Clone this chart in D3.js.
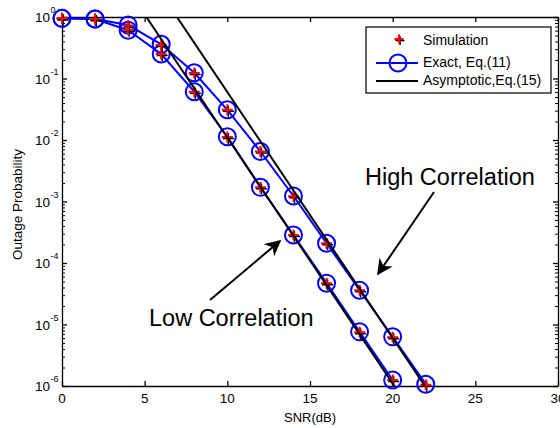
<html>
<head>
<script src="https://d3js.org/d3.v7.min.js"></script>
<style>
  body { margin: 0; background: #fff; }
  svg { font-family: "Liberation Sans", Arial, sans-serif; }
  .axis path, .axis line { stroke: #000; stroke-width: 1.3; }
  .minor line { stroke: #000; stroke-width: 1; }
</style>
</head>
<body>
<svg width="560" height="428"></svg>
<script>
// SNR points (dB)
var snrLow = [0, 2, 4, 6, 8, 10, 12, 14, 16, 18, 20];
var snrHigh = [0, 2, 4, 6, 8, 10, 12, 14, 16, 18, 20, 22];

// exact outage probability, Eq.(11)
var exactLow = [0.95, 0.93, 0.61, 0.25, 0.061, 0.0113, 0.0017, 2.85e-4, 4.7e-5, 7.6e-6, 1.25e-6];
var exactHigh = [0.95, 0.93, 0.74, 0.36, 0.124, 0.031, 0.0065, 0.00123, 2.1e-4, 3.6e-5, 6.3e-6, 1.07e-6];

// simulation results
var simLow = [0.95, 0.93, 0.62, 0.25, 0.061, 0.0112, 0.0017, 2.85e-4, 4.7e-5, 7.5e-6, 1.25e-6];
var simHigh = [0.95, 0.93, 0.73, 0.35, 0.123, 0.031, 0.0065, 0.00122, 2.1e-4, 3.6e-5, 6.2e-6, 1.05e-6];

// asymptotic lines, Eq.(15), read at the plot edges
var asymLowSnr = [5.1, 20.1];
var asymLowP = [1, 1e-6];
var asymHighSnr = [6.95, 21.95];
var asymHighP = [1, 1e-6];

// tick values
var xTicks = [0, 5, 10, 15, 20, 25, 30];
var yExps = [0, -1, -2, -3, -4, -5, -6];

var svg = d3.select("svg");
var mLeft = 62, mRight = 558, mTop = 17, mBottom = 386;

var x = d3.scaleLinear().domain([0, 30]).range([mLeft, mRight]);
var y = d3.scaleLog().domain([1e-6, 1]).range([mBottom, mTop]);

var yMajor = yExps.map(function(e) { return Math.pow(10, e); });
var yMinor = [];
yExps.slice(1).forEach(function(e) {
  for (var k = 2; k <= 9; k++) yMinor.push(k * Math.pow(10, e));
});

var defs = svg.append("defs");
defs.append("clipPath").attr("id", "clip")
  .append("rect").attr("x", mLeft).attr("y", mTop)
  .attr("width", mRight - mLeft).attr("height", mBottom - mTop);

// axes with inward ticks on all four sides
svg.append("g").attr("class", "axis")
  .attr("transform", "translate(0," + mBottom + ")")
  .call(d3.axisBottom(x).tickValues(xTicks).tickSizeInner(-5).tickSizeOuter(0).tickFormat(""));
svg.append("g").attr("class", "axis")
  .attr("transform", "translate(0," + mTop + ")")
  .call(d3.axisTop(x).tickValues(xTicks).tickSizeInner(-5).tickSizeOuter(0).tickFormat(""));
svg.append("g").attr("class", "axis")
  .attr("transform", "translate(" + mLeft + ",0)")
  .call(d3.axisLeft(y).tickValues(yMajor).tickSizeInner(-5).tickSizeOuter(0).tickFormat(""));
svg.append("g").attr("class", "axis")
  .attr("transform", "translate(" + mRight + ",0)")
  .call(d3.axisRight(y).tickValues(yMajor).tickSizeInner(-5).tickSizeOuter(0).tickFormat(""));
svg.append("g").attr("class", "axis minor")
  .attr("transform", "translate(" + mLeft + ",0)")
  .call(d3.axisLeft(y).tickValues(yMinor).tickSizeInner(-3).tickSizeOuter(0).tickFormat(""));
svg.append("g").attr("class", "axis minor")
  .attr("transform", "translate(" + mRight + ",0)")
  .call(d3.axisRight(y).tickValues(yMinor).tickSizeInner(-3).tickSizeOuter(0).tickFormat(""));
svg.selectAll(".minor path").remove();

// tick labels
svg.append("g").selectAll("text").data(xTicks).enter().append("text")
  .attr("x", function(d) { return x(d); })
  .attr("y", mBottom + 17)
  .attr("text-anchor", "middle")
  .attr("font-size", 13.5)
  .text(function(d) { return d; });

var yl = svg.append("g").selectAll("g").data(yExps).enter().append("g")
  .attr("transform", function(d) { return "translate(0," + y(Math.pow(10, d)) + ")"; });
yl.append("text").attr("x", 50).attr("y", 5).attr("text-anchor", "end")
  .attr("font-size", 13.5).text("10");
yl.append("text").attr("x", 50.5).attr("y", -4)
  .attr("font-size", 9).text(function(d) { return d; });

// axis titles
svg.append("text").attr("x", (mLeft + mRight) / 2).attr("y", 422)
  .attr("text-anchor", "middle").attr("font-size", 13).text("SNR(dB)");
svg.append("text")
  .attr("transform", "translate(22," + ((mTop + mBottom) / 2 + 3) + ") rotate(-90)")
  .attr("text-anchor", "middle").attr("font-size", 13.5).text("Outage Probability");

var line = d3.line()
  .x(function(d) { return x(d[0]); })
  .y(function(d) { return y(d[1]); });

// exact curves
[[snrLow, exactLow], [snrHigh, exactHigh]].forEach(function(s) {
  var pts = d3.zip(s[0], s[1]);
  svg.append("path").datum(pts)
    .attr("d", line).attr("fill", "none")
    .attr("stroke", "#0000ff").attr("stroke-width", 2);
  svg.append("g").selectAll("circle").data(pts).enter().append("circle")
    .attr("cx", function(d) { return x(d[0]); })
    .attr("cy", function(d) { return y(d[1]); })
    .attr("r", 8.5)
    .attr("fill", "none").attr("stroke", "#0000ff").attr("stroke-width", 2);
});

// simulation markers
function plus(g, cx, cy, a, color, w) {
  g.append("path")
    .attr("d", "M" + (cx - a) + "," + cy + "H" + (cx + a) + "M" + cx + "," + (cy - a) + "V" + (cy + a))
    .attr("stroke", color).attr("stroke-width", w).attr("fill", "none");
}
[[snrLow, simLow], [snrHigh, simHigh]].forEach(function(s) {
  var g = svg.append("g");
  d3.zip(s[0], s[1]).forEach(function(d) {
    plus(g, x(d[0]) + 1, y(d[1]) + 1.5, 5.5, "#000", 1.5);
    plus(g, x(d[0]), y(d[1]), 5.5, "#ff0000", 2);
  });
});

// asymptotic lines
[[asymLowSnr, asymLowP], [asymHighSnr, asymHighP]].forEach(function(s) {
  svg.append("path").datum(d3.zip(s[0], s[1]))
    .attr("d", line).attr("clip-path", "url(#clip)")
    .attr("fill", "none").attr("stroke", "#000").attr("stroke-width", 2);
});

// legend
var lg = svg.append("g");
lg.append("rect").attr("x", 366).attr("y", 27).attr("width", 185).attr("height", 66)
  .attr("fill", "#fff").attr("stroke", "#000").attr("stroke-width", 1.2);
plus(lg, 400, 40.5, 4.5, "#000", 1.5);
plus(lg, 399, 39, 4.5, "#ff0000", 2);
lg.append("line").attr("x1", 376).attr("x2", 418).attr("y1", 63).attr("y2", 63)
  .attr("stroke", "#0000ff").attr("stroke-width", 2);
lg.append("circle").attr("cx", 398).attr("cy", 63).attr("r", 8.5)
  .attr("fill", "none").attr("stroke", "#0000ff").attr("stroke-width", 2);
lg.append("line").attr("x1", 376).attr("x2", 418).attr("y1", 81).attr("y2", 81)
  .attr("stroke", "#000").attr("stroke-width", 2);
var legendText = ["Simulation", "Exact, Eq.(11)", "Asymptotic,Eq.(15)"];
lg.selectAll("text").data(legendText).enter().append("text")
  .attr("x", 423).attr("y", function(d, i) { return [45, 67, 85][i]; })
  .attr("font-size", 14).text(function(d) { return d; });

// annotations
defs.append("marker").attr("id", "arrow").attr("viewBox", "0 0 10 10")
  .attr("refX", 9).attr("refY", 5).attr("markerWidth", 16).attr("markerHeight", 16)
  .attr("markerUnits", "userSpaceOnUse").attr("orient", "auto")
  .append("path").attr("d", "M0,0 L10,5 L0,10 L3,5 z").attr("fill", "#000");

svg.append("text").attr("x", 365).attr("y", 185).attr("font-size", 23.5).text("High Correlation");
svg.append("line").attr("x1", 434).attr("y1", 192).attr("x2", 378).attr("y2", 274)
  .attr("stroke", "#000").attr("stroke-width", 2).attr("marker-end", "url(#arrow)");
svg.append("text").attr("x", 149).attr("y", 326).attr("font-size", 23.5).text("Low Correlation");
svg.append("line").attr("x1", 210).attr("y1", 300).attr("x2", 280).attr("y2", 241)
  .attr("stroke", "#000").attr("stroke-width", 2).attr("marker-end", "url(#arrow)");
</script>
</body>
</html>
